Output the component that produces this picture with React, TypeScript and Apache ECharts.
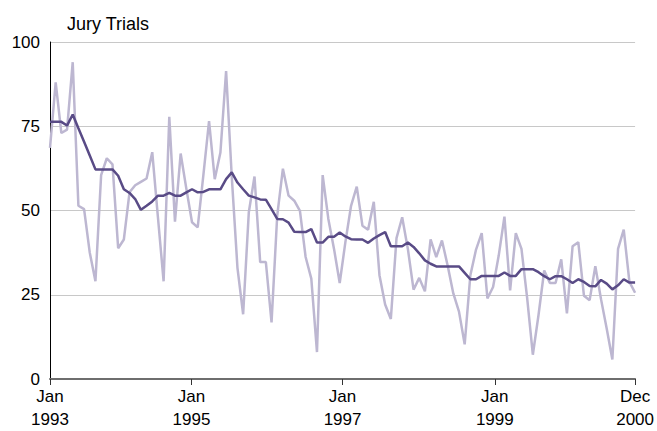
import React, { useEffect, useRef } from "react";
import * as echarts from "echarts";

// Four-weekly jury trial counts, Jan 1993 – Dec 2000 (13 periods per year)
const trialCounts: number[] = [
  68.6, 88, 73, 74, 94, 51.4, 50.4, 37.5, 29, 60.5, 65.5, 63.7, 38.8,
  41.4, 55.4, 57.5, 58.5, 59.5, 67.3, 48, 29, 77.8, 46.7, 66.9, 56.5,
  46.5, 45, 60.5, 76.5, 59.3, 67.2, 91.4, 60, 33, 19.2, 49.5, 60.1,
  34.7, 34.7, 16.8, 48.5, 62.4, 54.4, 52.9, 49.9, 36.2, 29.8, 8, 60.5,
  47.5, 38.6, 28.5, 40.6, 51.4, 57.1, 45.5, 44.3, 52.6, 30.8, 22.1,
  17.8, 41.8, 48, 38.6, 26.5, 30, 26, 41.4, 36.2, 41.1, 33.7, 25.4, 20,
  10.3, 30.8, 38.4, 43.3, 23.9, 27.3, 36.7, 48.2, 26.3, 43.3, 38.6, 24,
  7.2, 19, 32.2, 28.5, 28.5, 35.5, 19.5, 39.4, 40.6, 24.7, 23.4, 33.5,
  23.7, 15, 5.8, 38.6, 44.3, 28.8, 25.6,
];

// Smoothed trend of the same series
const trendValues: number[] = [
  76.3, 76.3, 76.3, 75.2, 78.5, 74.4, 70.4, 66.3, 62.2, 62.2, 62.2, 62.2,
  60.3, 56.3, 55.2, 53.4, 50.2, 51.4, 52.7, 54.4, 54.4, 55.2, 54.4, 54.4,
  55.4, 56.3, 55.4, 55.5, 56.3, 56.3, 56.3, 59.3, 61.3, 58.3, 56.3, 54.4,
  53.9, 53.3, 53.2, 50.4, 47.5, 47.4, 46.4, 43.7, 43.6, 43.6, 44.5, 40.5,
  40.5, 42.2, 42.2, 43.5, 42.3, 41.5, 41.4, 41.4, 40.4, 41.7, 42.7, 43.6,
  39.4, 39.4, 39.4, 40.5, 39.2, 37.3, 35.2, 34.2, 33.4, 33.4, 33.4, 33.4,
  33.4, 31.5, 29.6, 29.6, 30.6, 30.6, 30.6, 30.6, 31.6, 30.6, 30.6, 32.6,
  32.6, 32.6, 31.7, 30.5, 29.6, 30.5, 30.5, 29.6, 28.5, 29.6, 28.8, 27.6,
  27.5, 29.4, 28.3, 26.6, 27.8, 29.6, 28.6, 28.6,
];

// Tick positions (in period index units) and their labels
const tickPositions: number[] = [0, 24.9, 51.5, 78.3, 103];
const tickLabels: string[] = ["Jan\n1993", "Jan\n1995", "Jan\n1997", "Jan\n1999", "Dec\n2000"];

const yTicks: number[] = [0, 25, 50, 75, 100];

const FONT = "'Liberation Sans', Arial, Helvetica, sans-serif";

export default function App() {
  const ref = useRef<HTMLDivElement>(null);

  useEffect(() => {
    if (!ref.current) return;
    const chart = echarts.init(ref.current, undefined, { renderer: "svg" });
    const rawData = trialCounts.map((v, i) => [i, v]);
    const trendData = trendValues.map((v, i) => [i, v]);
    chart.setOption({
      animation: false,
      backgroundColor: "#ffffff",
      title: {
        text: "Jury Trials",
        left: 62,
        top: 10,
        textStyle: {
          fontFamily: FONT,
          fontSize: 18,
          fontWeight: "normal",
          color: "#000000",
        },
      },
      grid: { left: 50, right: 20, top: 42, bottom: 50, containLabel: false },
      xAxis: {
        type: "value",
        min: 0,
        max: trialCounts.length - 1,
        splitLine: { show: false },
        axisLine: { show: true, onZero: false, lineStyle: { color: "#6e6e6e", width: 2 } },
        axisTick: {
          show: true,
          length: 6,
          customValues: tickPositions,
          lineStyle: { color: "#333333", width: 1 },
        },
        axisLabel: {
          customValues: tickPositions,
          margin: 6,
          fontFamily: FONT,
          fontSize: 17,
          color: "#000000",
          lineHeight: 23,
          formatter: (val: number) => {
            let best = 0;
            for (let i = 1; i < tickPositions.length; i++) {
              if (Math.abs(tickPositions[i] - val) < Math.abs(tickPositions[best] - val)) best = i;
            }
            return tickLabels[best];
          },
        },
      },
      yAxis: {
        type: "value",
        min: 0,
        max: 100,
        interval: 25,
        axisLine: { show: true, lineStyle: { color: "#000000", width: 1 } },
        axisTick: { show: false },
        splitLine: { show: true, lineStyle: { color: "#c8c8c8", width: 1 } },
        axisLabel: {
          margin: 10,
          fontFamily: FONT,
          fontSize: 17,
          color: "#000000",
          padding: [7, 0, 0, 0],
          formatter: (v: number) => (yTicks.includes(v) ? String(v) : ""),
        },
      },
      series: [
        {
          name: "Jury trials",
          type: "line",
          data: rawData,
          showSymbol: false,
          lineStyle: { color: "#bdb7d1", width: 2.5 },
          itemStyle: { color: "#bdb7d1" },
          z: 2,
        },
        {
          name: "Trend",
          type: "line",
          data: trendData,
          showSymbol: false,
          lineStyle: { color: "#594b86", width: 2.5 },
          itemStyle: { color: "#594b86" },
          z: 3,
        },
      ],
    });
    return () => chart.dispose();
  }, []);

  return (
    <div
      ref={ref}
      style={{ position: "fixed", left: 0, top: 0, width: 657, height: 431, background: "#fff" }}
    />
  );
}
